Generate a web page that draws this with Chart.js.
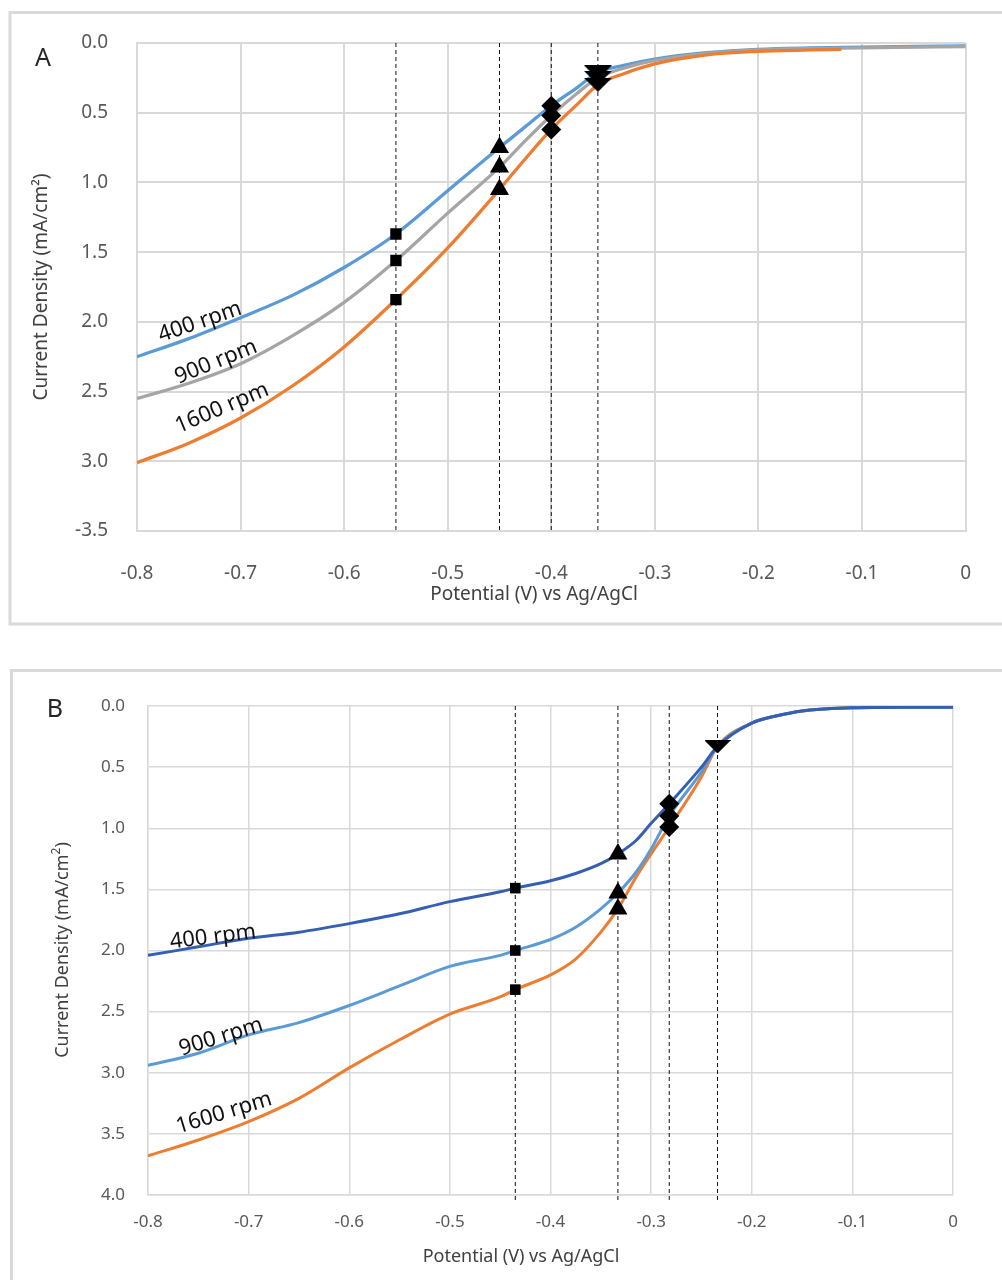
<!DOCTYPE html>
<html>
<head>
<meta charset="utf-8">
<script src="https://cdn.jsdelivr.net/npm/chart.js@4.4.1/dist/chart.umd.min.js"></script>
<style>
  html, body { margin: 0; padding: 0; background: #fff; }
  #wrap { position: relative; width: 1002px; height: 1280px; overflow: hidden; }
  canvas { position: absolute; left: 0; }
  #chartA { top: 0; }
  #chartB { top: 640px; }
</style>
</head>
<body>
<div id="wrap">
  <canvas id="chartA" width="1002" height="640"></canvas>
  <canvas id="chartB" width="1002" height="640"></canvas>
</div>
<script>
// ---------- Panel A: LSV at three rotation rates ----------
const potentialA = [-0.8, -0.75, -0.7, -0.65, -0.6, -0.55, -0.5, -0.45, -0.425, -0.4, -0.375, -0.355, -0.33, -0.3, -0.25, -0.2, -0.15, -0.12, -0.1, -0.05, 0];
const rpm400A  = [2.25, 2.12, 1.97, 1.81, 1.61, 1.37, 1.06, 0.75, 0.60, 0.45, 0.32, 0.21, 0.16, 0.115, 0.07, 0.045, 0.035, 0.032, 0.03, 0.025, 0.02];
const rpm900A  = [2.55, 2.44, 2.30, 2.10, 1.86, 1.56, 1.22, 0.89, 0.70, 0.52, 0.36, 0.25, 0.18, 0.125, 0.075, 0.05, 0.04, 0.037, 0.035, 0.03, 0.025];
const rpm1600A = [3.01, 2.87, 2.69, 2.46, 2.18, 1.84, 1.47, 1.05, 0.83, 0.62, 0.44, 0.30, 0.22, 0.15, 0.085, 0.06, 0.05, 0.045];
const markerPotA = [-0.55, -0.45, -0.4, -0.355];
const xTickLabelsA = ['-0.8', '-0.7', '-0.6', '-0.5', '-0.4', '-0.3', '-0.2', '-0.1', '0'];
const yTickLabelsA = ['0.0', '0.5', '1.0', '1.5', '2.0', '2.5', '3.0', '-3.5'];

// ---------- Panel B ----------
const potentialB = [-0.8, -0.75, -0.7, -0.65, -0.6, -0.55, -0.5, -0.45, -0.435, -0.4, -0.375, -0.35, -0.333, -0.315, -0.3, -0.282, -0.25, -0.234, -0.2, -0.175, -0.15, -0.1, -0.05, 0];
const rpm400B  = [2.04, 1.97, 1.90, 1.85, 1.78, 1.70, 1.60, 1.52, 1.49, 1.43, 1.37, 1.29, 1.21, 1.10, 0.96, 0.80, 0.50, 0.33, 0.14, 0.08, 0.04, 0.015, 0.01, 0.01];
const rpm900B  = [2.94, 2.84, 2.69, 2.59, 2.45, 2.29, 2.13, 2.04, 2.00, 1.91, 1.81, 1.66, 1.53, 1.36, 1.17, 0.90, 0.54, 0.33, 0.14, 0.08, 0.04, 0.015, 0.01, 0.01];
const rpm1600B = [3.68, 3.55, 3.40, 3.21, 2.96, 2.73, 2.52, 2.38, 2.32, 2.20, 2.07, 1.85, 1.66, 1.40, 1.21, 0.99, 0.58, 0.33, 0.14, 0.08, 0.04, 0.015, 0.01, 0.01];
const markerPotB = [-0.435, -0.333, -0.282, -0.234];
const xTickLabelsB = ['-0.8', '-0.7', '-0.6', '-0.5', '-0.4', '-0.3', '-0.2', '-0.1', '0'];
const yTickLabelsB = ['0.0', '0.5', '1.0', '1.5', '2.0', '2.5', '3.0', '3.5', '4.0'];

const seriesLabels = ['400 rpm', '900 rpm', '1600 rpm'];

Chart.defaults.font.family = '"Noto Sans", "Open Sans", sans-serif';

function pairs(xs, ys) {
  return ys.map((y, i) => ({ x: xs[i], y: y }));
}

// flat, downward-pointing triangle used as a marker image
function downTriangle(w, h) {
  const c = document.createElement('canvas');
  c.width = w; c.height = h;
  const g = c.getContext('2d');
  g.fillStyle = '#000';
  g.beginPath();
  g.moveTo(0, 0); g.lineTo(w, 0); g.lineTo(w / 2, h);
  g.closePath(); g.fill();
  return c;
}

function curve(label, xs, ys, color, width, order) {
  return {
    label: label, data: pairs(xs, ys), borderColor: color, backgroundColor: color,
    borderWidth: width, pointRadius: 0, cubicInterpolationMode: 'monotone',
    fill: false, order: order
  };
}

function markersAt(xs, seriesList, potList, styles) {
  return potList.map((p, k) => {
    const i = xs.findIndex(v => Math.abs(v - p) < 1e-9);
    const st = styles[k];
    return {
      label: 'm' + k,
      data: seriesList.map(s => ({ x: p, y: s[i] })),
      showLine: false, pointStyle: st.style, pointRadius: st.r, pointRotation: st.rot || 0,
      pointBackgroundColor: '#000', pointBorderColor: '#000', pointBorderWidth: 0,
      order: 0
    };
  });
}

function dashes(potList, yTop, yBottom) {
  return potList.map((p, k) => ({
    label: 'd' + k,
    data: [{ x: p, y: yTop }, { x: p, y: yBottom }],
    borderColor: '#111', borderWidth: 1, borderDash: [4, 3], pointRadius: 0,
    clip: false, order: 5
  }));
}

function decor(opts) {
  return {
    id: 'decor' + opts.letter,
    beforeDraw(chart) {
      const ctx = chart.ctx;
      ctx.save();
      ctx.fillStyle = '#fff';
      ctx.fillRect(0, 0, chart.width, chart.height);
      ctx.strokeStyle = '#d9d9d9';
      ctx.lineWidth = 3;
      ctx.strokeRect(opts.frame[0], opts.frame[1], opts.frame[2], opts.frame[3]);
      ctx.restore();
    },
    afterDraw(chart) {
      const ctx = chart.ctx;
      const ff = Chart.defaults.font.family;
      ctx.save();
      // panel letter
      ctx.fillStyle = '#262626';
      ctx.font = '25px ' + ff;
      ctx.textAlign = 'center';
      ctx.textBaseline = 'middle';
      ctx.fillText(opts.letter, opts.letterPos[0], opts.letterPos[1]);
      // x title
      ctx.fillStyle = '#404040';
      ctx.font = opts.titleSize + 'px ' + ff;
      ctx.fillText('Potential (V) vs Ag/AgCl', opts.xTitle[0], opts.xTitle[1]);
      // y title (rotated)
      ctx.save();
      ctx.translate(opts.yTitle[0], opts.yTitle[1]);
      ctx.rotate(-Math.PI / 2);
      if (opts.supTitle) {
        const a = 'Current Density (mA/cm', b = ')';
        ctx.font = opts.titleSize + 'px ' + ff;
        const wa = ctx.measureText(a).width, wb = ctx.measureText(b).width;
        ctx.font = Math.round(opts.titleSize * 0.65) + 'px ' + ff;
        const ws = ctx.measureText('2').width;
        const x0 = -(wa + ws + wb) / 2;
        ctx.textAlign = 'left';
        ctx.font = opts.titleSize + 'px ' + ff;
        ctx.fillText(a, x0, 0);
        ctx.font = Math.round(opts.titleSize * 0.65) + 'px ' + ff;
        ctx.fillText('2', x0 + wa, -opts.titleSize * 0.35);
        ctx.font = opts.titleSize + 'px ' + ff;
        ctx.fillText(b, x0 + wa + ws, 0);
      } else {
        ctx.fillText('Current Density (mA/cm\u00b2)', 0, 0);
      }
      ctx.restore();
      // rotation-rate labels along the curves
      ctx.fillStyle = '#111';
      ctx.font = '22px ' + ff;
      ctx.textAlign = 'center';
      opts.rpmLabels.forEach((l, k) => {
        ctx.save();
        ctx.translate(l[0], l[1]);
        ctx.rotate(l[2] * Math.PI / 180);
        ctx.fillText(seriesLabels[k], 0, 0);
        ctx.restore();
      });
      ctx.restore();
    }
  };
}

function axes(o) {
  return {
    x: {
      type: 'linear', min: -0.8, max: 0,
      ticks: {
        stepSize: 0.1, padding: o.xPad, color: '#595959', font: { size: o.tickSize },
        maxRotation: 0, autoSkip: false,
        callback: (v) => {
          const k = Math.round((v + 0.8) / 0.1);
          return o.xLabels[k] !== undefined ? o.xLabels[k] : v;
        }
      },
      grid: { color: '#d9d9d9', lineWidth: o.gridW, drawTicks: false },
      border: { color: '#d9d9d9', width: o.gridW },
      afterFit(s) { s.height = o.xHeight; }
    },
    y: {
      type: 'linear', reverse: true, min: 0, max: o.yMax,
      ticks: {
        stepSize: 0.5, padding: o.yPad, color: '#595959', font: { size: o.tickSize },
        callback: (v) => {
          const k = Math.round(v / 0.5);
          return o.yLabels[k] !== undefined ? o.yLabels[k] : v;
        }
      },
      grid: { color: '#d9d9d9', lineWidth: o.gridW, drawTicks: false },
      border: { color: '#d9d9d9', width: o.gridW },
      afterFit(s) { s.width = o.yWidth; }
    }
  };
}

// ---------- build panel A ----------
const downA = downTriangle(28, 14);
new Chart(document.getElementById('chartA'), {
  type: 'line',
  data: {
    datasets: [
      ...markersAt(potentialA, [rpm400A, rpm900A, rpm1600A], markerPotA, [
        { style: 'rect', r: 8 }, { style: 'triangle', r: 11 },
        { style: 'rectRot', r: 10 }, { style: downA, r: 10 }
      ]),
      curve(seriesLabels[2], potentialA, rpm1600A, '#ed7d31', 3.3, 1),
      curve(seriesLabels[1], potentialA, rpm900A, '#a5a5a5', 3.3, 2),
      curve(seriesLabels[0], potentialA, rpm400A, '#5b9bd5', 3.3, 3),
      ...dashes(markerPotA, 0, 3.5)
    ]
  },
  options: {
    responsive: false, animation: false, events: [],
    layout: { padding: { left: 0, right: 27, top: 43, bottom: 0 } },
    plugins: { legend: { display: false }, tooltip: { enabled: false } },
    scales: axes({ xPad: 31, yPad: 29, tickSize: 19, gridW: 2, xHeight: 109, yWidth: 137,
                   yMax: 3.5, xLabels: xTickLabelsA, yLabels: yTickLabelsA })
  },
  plugins: [decor({
    letter: 'A', letterPos: [43, 59], frame: [10, 12.5, 1010, 611.5],
    xTitle: [534, 595], yTitle: [42, 287], titleSize: 19, supTitle: false,
    rpmLabels: [[200, 322, -19], [216, 362, -22], [222, 408, -23]]
  })]
});

// ---------- build panel B ----------
const downB = downTriangle(26, 13);
new Chart(document.getElementById('chartB'), {
  type: 'line',
  data: {
    datasets: [
      ...markersAt(potentialB, [rpm400B, rpm900B, rpm1600B], markerPotB, [
        { style: 'rect', r: 7.5 }, { style: 'triangle', r: 11 },
        { style: 'rectRot', r: 10 }, { style: downB, r: 10 }
      ]),
      curve(seriesLabels[0], potentialB, rpm400B, '#355fb2', 3, 1),
      curve(seriesLabels[1], potentialB, rpm900B, '#5b9bd5', 3, 2),
      curve(seriesLabels[2], potentialB, rpm1600B, '#ed7d31', 3, 3),
      ...dashes(markerPotB, 0, 4.06)
    ]
  },
  options: {
    responsive: false, animation: false, events: [],
    layout: { padding: { left: 0, right: 49, top: 66, bottom: 0 } },
    plugins: { legend: { display: false }, tooltip: { enabled: false } },
    scales: axes({ xPad: 17, yPad: 23, tickSize: 17, gridW: 1.5, xHeight: 85, yWidth: 148,
                   yMax: 4, xLabels: xTickLabelsB, yLabels: yTickLabelsB })
  },
  plugins: [decor({
    letter: 'B', letterPos: [55, 70], frame: [11.5, 30.5, 1010, 700],
    xTitle: [521, 617], yTitle: [63, 310], titleSize: 18, supTitle: true,
    rpmLabels: [[213, 297, -7], [221, 397, -17], [224, 473, -17]]
  })]
});
</script>
</body>
</html>
